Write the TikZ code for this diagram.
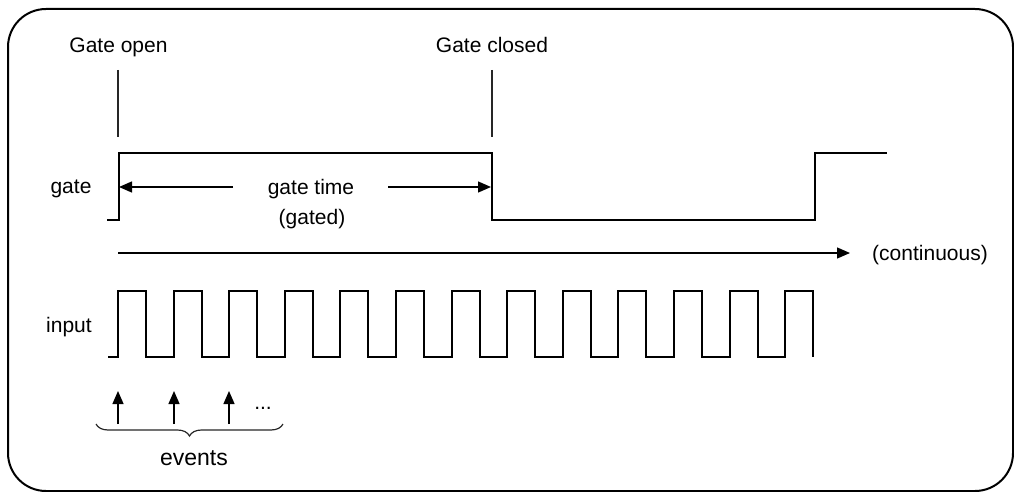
\documentclass[tikz,border=0pt]{standalone}
\usepackage{fontspec}
\setmainfont{Liberation Sans}
\usetikzlibrary{arrows.meta,decorations.pathreplacing}
\begin{document}
\begin{tikzpicture}[x=1pt,y=-1pt,
  lbl/.style={font=\fontsize{21}{24}\selectfont, inner sep=0pt, anchor=base},
  sig/.style={line width=2pt, line join=miter},
  arr/.style={line width=1.3pt, -{Triangle[length=13pt,width=11pt]}},
  marker/.style={line width=1.3pt, draw=black!85}]
\useasboundingbox (0,0) rectangle (1014,492);
\draw[line width=2pt, rounded corners=38pt] (8,9) rectangle (1013,491);

% labels
\node[lbl] (gopen) at (118.5,53) {Gate open};
\node[lbl] (gclosed) at (492,53) {Gate closed};
\node[lbl] (gatelbl) at (71,193) {gate};
\node[lbl] (inputlbl) at (69,332) {input};
\node[lbl] (gtime) at (311,194) {gate time};
\node[lbl] (gated) at (312,224) {(gated)};
\node[lbl] (cont) at (930,260) {(continuous)};
\node[lbl] (dots) at (263,409) {...};
\node[lbl, font=\fontsize{23}{26}\selectfont] (events) at (194,465) {events};

% gate open / closed markers
\coordinate (goA) at (118,70);
\coordinate (goB) at (118,137);
\coordinate (gcA) at (492,70);
\coordinate (gcB) at (492,137);
\draw[marker] (goA) -- (goB);
\draw[marker] (gcA) -- (gcB);

% gate signal
\draw[sig] (107,220) -- (119,220) -- (119,153) -- (492,153) -- (492,220)
  -- (815,220) -- (815,153) -- (887,153);

% gate time arrows
\coordinate (gtL) at (233,187);
\coordinate (gtLtip) at (119,187);
\coordinate (gtR) at (388,187);
\coordinate (gtRtip) at (491,187);
\draw[arr] (gtL) -- (gtLtip);
\draw[arr] (gtR) -- (gtRtip);

% continuous axis
\coordinate (axA) at (118,253);
\coordinate (axB) at (850,253);
\draw[arr] (axA) -- (axB);

% input signal
\draw[sig] (108,357) foreach \k in {0,...,12} {
  -- ({118+55.6*\k},357) -- ({118+55.6*\k},291)
  -- ({146+55.6*\k},291) -- ({146+55.6*\k},357) };

% event arrows
\foreach \k/\xx in {1/118,2/174,3/229} {
  \coordinate (evA\k) at (\xx,424);
  \coordinate (evB\k) at (\xx,391);
  \draw[arr] (evA\k) -- (evB\k);
}

% brace
\coordinate (brA) at (96,424);
\coordinate (brB) at (283,424);
\draw[line width=1.2pt, draw=black!85, decorate,
  decoration={brace, amplitude=12pt, mirror}] (brA) -- (brB);
\end{tikzpicture}
\end{document}
